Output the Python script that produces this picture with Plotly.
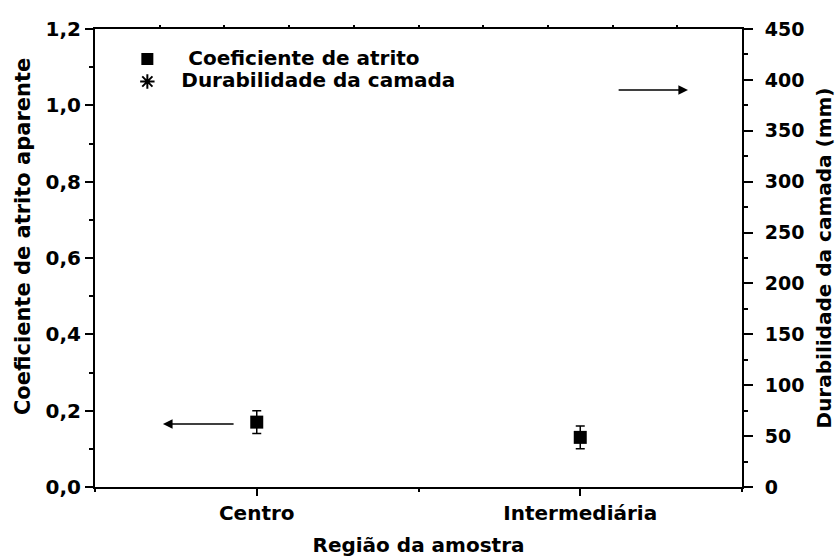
import plotly.graph_objects as go

# Sample regions and measured values
regioes = ["Centro", "Intermediária"]
regiao_pos = [0, 1]
coef_atrito = [0.17, 0.13]
coef_erro = [0.03, 0.03]
durabilidade = [None, None]

FONT = "DejaVu Sans"
NB = "\u00a0"


def big(txt, size=20):
    return f'<span style="font-size:{size}px">{txt}</span>'


fig = go.Figure()

fig.add_trace(go.Scatter(
    x=regiao_pos, y=coef_atrito,
    mode="markers",
    name=big(NB * 3 + "Coeficiente de atrito"),
    marker=dict(symbol="square", size=13, color="black"),
    error_y=dict(type="data", array=coef_erro, visible=True,
                 color="black", thickness=1.5, width=4.5),
    xaxis="x", yaxis="y",
))

fig.add_trace(go.Scatter(
    x=regiao_pos, y=durabilidade,
    mode="markers",
    name=big(NB * 2 + "Durabilidade da camada"),
    marker=dict(symbol="asterisk-open", size=11, color="black",
                line=dict(color="black", width=2)),
    xaxis="x", yaxis="y2",
))

# empty trace so the top frame axis is drawn
fig.add_trace(go.Scatter(x=[None], y=[None], xaxis="x2", yaxis="y",
                         showlegend=False, hoverinfo="skip"))

tickfont = dict(family=FONT, size=20, color="black", weight="bold")
titlefont = dict(family=FONT, size=20, color="black", weight="bold")

fig.update_layout(
    width=837, height=559,
    margin=dict(l=95, r=95, t=29, b=72),
    paper_bgcolor="white", plot_bgcolor="white",
    separators=",.",
    showlegend=True,
    legend=dict(x=0.05, y=0.97, xanchor="left", yanchor="top",
                bgcolor="rgba(0,0,0,0)", borderwidth=0,
                font=dict(family=FONT, size=15, color="black", weight="bold"),
                itemsizing="constant", tracegroupgap=0),
    xaxis=dict(
        range=[-0.5, 1.5], automargin=False,
        tickvals=regiao_pos, ticktext=regioes,
        ticks="outside", ticklen=7, tickwidth=2, tickcolor="black",
        minor=dict(tickvals=[-0.5, 0.5, 1.5], ticks="outside", ticklen=3,
                   tickwidth=2, tickcolor="black"),
        showline=True, linewidth=2, linecolor="black",
        showgrid=False, zeroline=False,
        tickfont=tickfont,
        title=dict(text="Região da amostra", font=titlefont, standoff=14),
    ),
    xaxis2=dict(
        overlaying="x", side="top", range=[-0.5, 1.5], automargin=False,
        tickvals=[-0.3, -0.1, 0.1, 0.3, 0.5, 0.7, 0.9, 1.1, 1.3],
        showticklabels=False,
        ticks="outside", ticklen=2, tickwidth=2, tickcolor="black",
        showline=True, linewidth=2, linecolor="black",
        showgrid=False, zeroline=False,
    ),
    yaxis=dict(
        range=[0, 1.2], automargin=False,
        tickvals=[0, 0.2, 0.4, 0.6, 0.8, 1.0, 1.2],
        tickformat=".1f",
        ticks="outside", ticklen=8, tickwidth=2, tickcolor="black",
        minor=dict(tickvals=[0.1, 0.3, 0.5, 0.7, 0.9, 1.1], ticks="outside",
                   ticklen=4, tickwidth=2, tickcolor="black"),
        showline=True, linewidth=2, linecolor="black",
        showgrid=False, zeroline=False,
        tickfont=tickfont,
    ),
    yaxis2=dict(
        overlaying="y", side="right", anchor="x", automargin=False,
        range=[0, 450], tickvals=list(range(0, 451, 50)),
        ticks="outside", ticklen=9, tickwidth=2, tickcolor="black",
        minor=dict(tickvals=list(range(25, 450, 50)), ticks="outside",
                   ticklen=4, tickwidth=2, tickcolor="black"),
        showline=True, linewidth=2, linecolor="black",
        showgrid=False, zeroline=False,
        tickfont=dict(family=FONT, size=19, color="black", weight="bold"),
        ticklabelstandoff=8,
        title=dict(text="Durabilidade da camada (mm)", font=titlefont,
                   standoff=14),
    ),
)

# left axis title, set slightly above the plot centre
fig.add_annotation(text="Coeficiente de atrito aparente", textangle=-90,
                   xref="paper", yref="paper", x=-0.111, y=0.546,
                   xanchor="center", yanchor="middle", showarrow=False,
                   font=dict(family=FONT, size=21, color="black", weight="bold"))

# arrows pointing each series to its axis
fig.add_annotation(x=-0.29, y=0.165, xref="x", yref="y",
                   ax=-0.067, ay=0.165, axref="x", ayref="y",
                   showarrow=True, arrowhead=2, arrowsize=1.2, arrowwidth=1.6,
                   arrowcolor="black", text="")
fig.add_annotation(x=1.333, y=390, xref="x", yref="y2",
                   ax=1.114, ay=390, axref="x", ayref="y2",
                   showarrow=True, arrowhead=2, arrowsize=1.2, arrowwidth=1.6,
                   arrowcolor="black", text="")

fig.write_html("out.html")
